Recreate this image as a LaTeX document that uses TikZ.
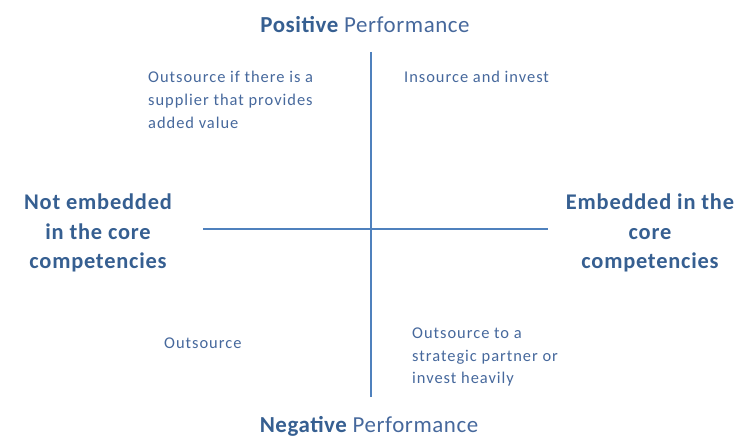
\documentclass[tikz,border=0pt]{standalone}
\usepackage{fontspec}
\setmainfont{Carlito}
\definecolor{axisblue}{RGB}{79,129,189}
\definecolor{headblue}{RGB}{54,95,145}
\definecolor{textblue}{RGB}{70,104,156}
\tikzset{
  axis/.style={draw=axisblue,line width=2.2bp},
  side/.style={font=\fontsize{22.5}{30}\selectfont\bfseries\addfontfeatures{LetterSpace=3.5},text=headblue,align=center,inner sep=0pt},
  perf/.style={font=\fontsize{23}{26}\selectfont\addfontfeatures{LetterSpace=2.5},text=textblue,inner sep=0pt},
  quad/.style={font=\fontsize{16.5}{23}\selectfont\addfontfeatures{LetterSpace=6},text=textblue,align=left,inner sep=0pt,anchor=west}
}
\begin{document}
\begin{tikzpicture}
  \useasboundingbox (0bp,0bp) rectangle (738bp,444bp);
  \coordinate (Top) at (371bp,392bp);
  \coordinate (Bottom) at (371bp,47bp);
  \coordinate (Left) at (203bp,215bp);
  \coordinate (Right) at (548bp,215bp);
  \draw [axis] (Top) -- (Bottom);
  \draw [axis] (Left) -- (Right);
  \node (PosPerf) at (365bp,419bp) [perf] {\textbf{\textcolor{headblue}{Positive}} Performance};
  \node (NegPerf) at (369bp,18bp) [perf] {\textbf{\textcolor{headblue}{Negative}} Performance};
  \node (NotCore) at (98bp,211bp) [side] {Not embedded\\in the core\\competencies};
  \node (Core) at (650bp,211bp) [side] {Embedded in the\\core\\competencies};
  \node (QuadTL) at (148bp,344bp) [quad] {Outsource if there is a\\supplier that provides\\added value};
  \node (QuadTR) at (404bp,367bp) [quad] {Insource and invest};
  \node (QuadBL) at (164bp,101bp) [quad] {Outsource};
  \node (QuadBR) at (412bp,87bp) [quad] {Outsource to a\\strategic partner or\\invest heavily};
\end{tikzpicture}
\end{document}
